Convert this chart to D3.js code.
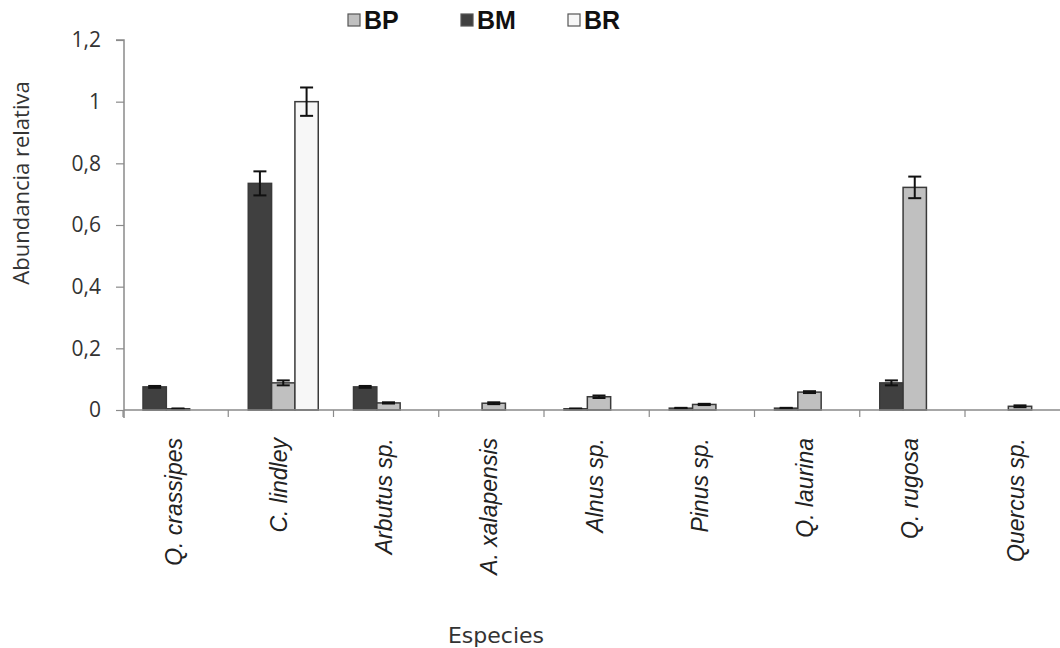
<!DOCTYPE html>
<html>
<head>
<meta charset="utf-8">
<script src="https://cdn.jsdelivr.net/npm/d3@7"></script>
<style>
  html, body { margin: 0; padding: 0; background: #ffffff; }
  svg { display: block; }
</style>
</head>
<body>
<div id="chart"></div>
<script>
// ---- data ----
const categories = ["Q. crassipes", "C. lindley", "Arbutus sp.", "A. xalapensis", "Alnus sp.", "Pinus sp.", "Q. laurina", "Q. rugosa", "Quercus sp."];
const seriesNames = ["BM", "BP", "BR"];           // order of bars within a group
const legendOrder = ["BP", "BM", "BR"];           // order in legend
const valuesBM = [0.075, 0.735, 0.075, 0, 0.004, 0.006, 0.006, 0.088, 0];
const valuesBP = [0.004, 0.088, 0.023, 0.022, 0.043, 0.018, 0.058, 0.722, 0.012];
const valuesBR = [0, 1.0, 0, 0, 0, 0, 0, 0, 0];
const errorsBM = [0.003, 0.039, 0.003, 0, 0.001, 0.001, 0.001, 0.008, 0];
const errorsBP = [0.001, 0.008, 0.002, 0.003, 0.004, 0.002, 0.003, 0.035, 0.003];
const errorsBR = [0, 0.046, 0, 0, 0, 0, 0, 0, 0];
const yTickValues = [0, 0.2, 0.4, 0.6, 0.8, 1, 1.2];
const yTickLabels = ["0", "0,2", "0,4", "0,6", "0,8", "1", "1,2"];
const yTitle = "Abundancia relativa";
const xTitle = "Especies";

const seriesValues = { BM: valuesBM, BP: valuesBP, BR: valuesBR };
const seriesErrors = { BM: errorsBM, BP: errorsBP, BR: errorsBR };
const colors = { BM: "#404040", BP: "#c0c0c0", BR: "#f7f7f7" };

// ---- layout ----
const W = 1060, H = 648;
const plotLeft = 124, plotBottom = 410, plotTop = 40;
const bandW = 105.25;

const svg = d3.select("#chart").append("svg").attr("width", W).attr("height", H);

const x0 = d3.scaleBand().domain(categories).range([123, 123 + bandW * categories.length]).padding(0);
const x1 = d3.scaleBand().domain(seriesNames).range([20, 90]).padding(0);
const y = d3.scaleLinear().domain([0, 1.2]).range([plotBottom, plotTop]);

// bars
const rows = [];
categories.forEach((c, i) => {
  seriesNames.forEach(s => rows.push({ c, s, v: seriesValues[s][i], e: seriesErrors[s][i] }));
});

svg.append("g").selectAll("rect")
  .data(rows.filter(d => d.v > 0))
  .join("rect")
  .attr("x", d => x0(d.c) + x1(d.s))
  .attr("y", d => y(d.v))
  .attr("width", x1.bandwidth())
  .attr("height", d => y(0) - y(d.v))
  .attr("fill", d => colors[d.s])
  .attr("stroke", "#3a3a3a")
  .attr("stroke-width", 1.5);

// error bars
const eg = svg.append("g").attr("stroke", "#111").attr("stroke-width", 2);
rows.filter(d => d.v > 0 && d.e > 0).forEach(d => {
  const cx = x0(d.c) + x1(d.s) + x1.bandwidth() / 2;
  const y1 = y(d.v + d.e), y2 = y(d.v - d.e);
  eg.append("line").attr("x1", cx).attr("x2", cx).attr("y1", y1).attr("y2", y2);
  eg.append("line").attr("x1", cx - 6.5).attr("x2", cx + 6.5).attr("y1", y1).attr("y2", y1);
  eg.append("line").attr("x1", cx - 6.5).attr("x2", cx + 6.5).attr("y1", y2).attr("y2", y2);
});

// y axis
const yAxis = d3.axisLeft(y)
  .tickValues(yTickValues)
  .tickFormat((d, i) => yTickLabels[i])
  .tickSize(8)
  .tickPadding(15);
const gy = svg.append("g").attr("transform", `translate(${plotLeft},0)`).call(yAxis);
gy.select(".domain").attr("stroke", "#8a8a8a").attr("stroke-width", 1.5).attr("d", `M-8,${plotTop}H0V${plotBottom + 8}`);
gy.selectAll(".tick line").attr("stroke", "#8a8a8a").attr("stroke-width", 1.2);
gy.selectAll(".tick text")
  .attr("font-family", "'Open Sans', sans-serif")
  .attr("font-size", 21)
  .attr("fill", "#333");

// x axis line
svg.append("line")
  .attr("x1", plotLeft).attr("x2", W)
  .attr("y1", plotBottom).attr("y2", plotBottom)
  .attr("stroke", "#8a8a8a").attr("stroke-width", 1.5);

// x boundary ticks
const boundaries = categories.map(c => x0(c)).concat([x0.range()[1]]);
svg.append("g").selectAll("line")
  .data(boundaries)
  .join("line")
  .attr("x1", d => d).attr("x2", d => d)
  .attr("y1", plotBottom).attr("y2", plotBottom + 7)
  .attr("stroke", "#8a8a8a").attr("stroke-width", 1.2);

// x labels
svg.append("g").selectAll("text")
  .data(categories)
  .join("text")
  .attr("transform", d => `translate(${x0(d) + x0.bandwidth() / 2 - 2},438) rotate(-90)`)
  .attr("text-anchor", "end")
  .attr("dy", "0.35em")
  .attr("font-family", "'Liberation Sans', Arial, sans-serif")
  .attr("font-style", "italic")
  .attr("font-size", 23)
  .attr("fill", "#222")
  .text(d => d);

// axis titles
svg.append("text")
  .attr("transform", `translate(29,183) rotate(-90)`)
  .attr("text-anchor", "middle")
  .attr("font-family", "'Open Sans', sans-serif")
  .attr("font-size", 22)
  .attr("fill", "#333")
  .text(yTitle);

svg.append("text")
  .attr("x", 496).attr("y", 643)
  .attr("text-anchor", "middle")
  .attr("font-family", "'DejaVu Sans', sans-serif")
  .attr("font-size", 22)
  .attr("fill", "#333")
  .text(xTitle);

// legend
const legendX = d3.scaleOrdinal().domain(legendOrder).range([348, 461, 568]);
const lg = svg.append("g").selectAll("g").data(legendOrder).join("g")
  .attr("transform", d => `translate(${legendX(d)},0)`);
lg.append("rect")
  .attr("x", 0).attr("y", 14).attr("width", 12).attr("height", 12)
  .attr("fill", d => colors[d])
  .attr("stroke", "#555").attr("stroke-width", 1.2);
lg.append("text")
  .attr("x", 16).attr("y", 29)
  .attr("font-family", "'Liberation Sans', Arial, sans-serif")
  .attr("font-weight", "bold")
  .attr("font-size", 25)
  .attr("fill", "#111")
  .text(d => d);
</script>
</body>
</html>
